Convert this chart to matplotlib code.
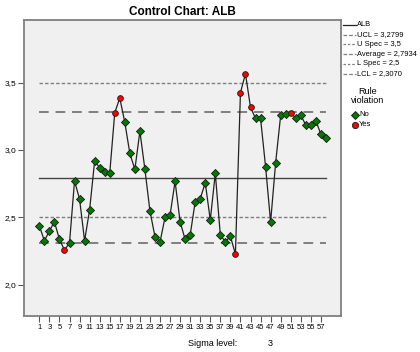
import matplotlib
matplotlib.use("Agg")
import matplotlib.pyplot as plt
from matplotlib.lines import Line2D

plt.rcParams['font.family'] = ['Liberation Sans', 'DejaVu Sans']

# data
alb = [2.438, 2.326, 2.398, 2.467, 2.336, 2.257, 2.309, 2.770, 2.636, 2.326,
       2.556, 2.918, 2.869, 2.839, 2.827, 3.277, 3.386, 3.206, 2.975, 2.856,
       3.139, 2.856, 2.547, 2.356, 2.316, 2.500, 2.517, 2.767, 2.467, 2.336,
       2.368, 2.616, 2.638, 2.757, 2.480, 2.827, 2.368, 2.319, 2.359, 2.227,
       3.426, 3.567, 3.317, 3.235, 3.235, 2.876, 2.465, 2.906, 3.258, 3.267,
       3.277, 3.238, 3.258, 3.186, 3.186, 3.218, 3.117, 3.087]
violations = [6, 16, 17, 40, 41, 42, 43, 51]

ucl = 3.2799
usl = 3.5
avg = 2.7934
lsl = 2.5
lcl = 2.3070
sigma_level = 3

W, H = 420, 352


def fx(x):
    return x / W


def fy(y):
    return 1 - y / H


fig = plt.figure(figsize=(4.2, 3.52), dpi=100)
ax = fig.add_axes([fx(24), fy(316), fx(341) - fx(24), fy(20) - fy(316)])
ax.set_facecolor('#f0f0f0')

n = len(alb)
xs = list(range(1, n + 1))
gray = '#7f7f7f'

# control / spec lines
ax.plot([1, n], [usl, usl], color=gray, lw=1.0, ls=(0, (2.5, 1.5)))
ax.plot([1, n], [lsl, lsl], color=gray, lw=1.0, ls=(0, (2.5, 1.5)))
ax.plot([1, n], [ucl, ucl], color=gray, lw=1.4, ls=(0, (5, 3.5)))
ax.plot([1, n], [lcl, lcl], color=gray, lw=1.4, ls=(0, (5, 3.5)))
ax.plot([1, n], [avg, avg], color='#444444', lw=1.0)

# series
ax.plot(xs, alb, color='#222222', lw=0.9, zorder=3)
ok_x = [x for x in xs if x not in violations]
ok_y = [alb[x - 1] for x in ok_x]
bad_y = [alb[x - 1] for x in violations]
ax.scatter(ok_x, ok_y, marker='D', s=17, color='#007a00', edgecolor='#1a1a1a',
           linewidth=0.6, zorder=4)
ax.scatter(violations, bad_y, marker='o', s=17, color='#ff0000', edgecolor='#1a1a1a',
           linewidth=0.6, zorder=4)

ax.set_xlim(-2.05, 61.0)
ax.set_ylim(1.767, 3.966)
ax.set_xticks(range(1, n, 2))
ax.set_xticklabels([str(i) for i in range(1, n, 2)], fontsize=5.5)
ax.set_yticks([2.0, 2.5, 3.0, 3.5])
ax.set_yticklabels(['2,0', '2,5', '3,0', '3,5'], fontsize=6)
ax.tick_params(direction='out', length=4, width=0.8, color='#555555', pad=1.5)
for s in ax.spines.values():
    s.set_color('#808080')
    s.set_linewidth(1.3)

fig.text(fx(182), fy(12), 'Control Chart: ALB', fontsize=8.5, fontweight='bold',
         ha='center', va='center')

# legend on the right
entries = [
    ('ALB', '-', '#222222'),
    ('UCL = ' + f'{ucl:.4f}'.replace('.', ','), (0, (3, 1.5)), gray),
    ('U Spec = ' + str(usl).replace('.', ','), (0, (2, 1.5)), gray),
    ('Average = ' + f'{avg:.4f}'.replace('.', ','), (0, (3, 1.5)), gray),
    ('L Spec = ' + str(lsl).replace('.', ','), (0, (2, 1.5)), gray),
    ('LCL = ' + f'{lcl:.4f}'.replace('.', ','), (0, (3, 1.5)), gray),
]
for k, (lab, ls, c) in enumerate(entries):
    yy = 25 + k * 9.7
    fig.add_artist(Line2D([fx(343), fx(356)], [fy(yy), fy(yy)], color=c, lw=0.9,
                          ls=ls, transform=fig.transFigure))
    fig.text(fx(357), fy(yy), lab, fontsize=5.4, ha='left', va='center')

fig.text(fx(368), fy(96), 'Rule\nviolation', fontsize=6.5, ha='center', va='center',
         linespacing=1.0)
fig.add_artist(Line2D([fx(355)], [fy(115)], marker='D', ms=4.5, color='#007a00',
                      markeredgecolor='#1a1a1a', markeredgewidth=0.6, ls='none',
                      transform=fig.transFigure))
fig.text(fx(359), fy(115), 'No', fontsize=5.5, ha='left', va='center')
fig.add_artist(Line2D([fx(355)], [fy(125)], marker='o', ms=4.5, color='#ff0000',
                      markeredgecolor='#1a1a1a', markeredgewidth=0.6, ls='none',
                      transform=fig.transFigure))
fig.text(fx(359), fy(125), 'Yes', fontsize=5.5, ha='left', va='center')

fig.text(fx(188), fy(343), 'Sigma level:', fontsize=6.5, ha='left', va='center')
fig.text(fx(270), fy(343), str(sigma_level), fontsize=6.5, ha='center', va='center')

fig.savefig('out.png', dpi=100)
